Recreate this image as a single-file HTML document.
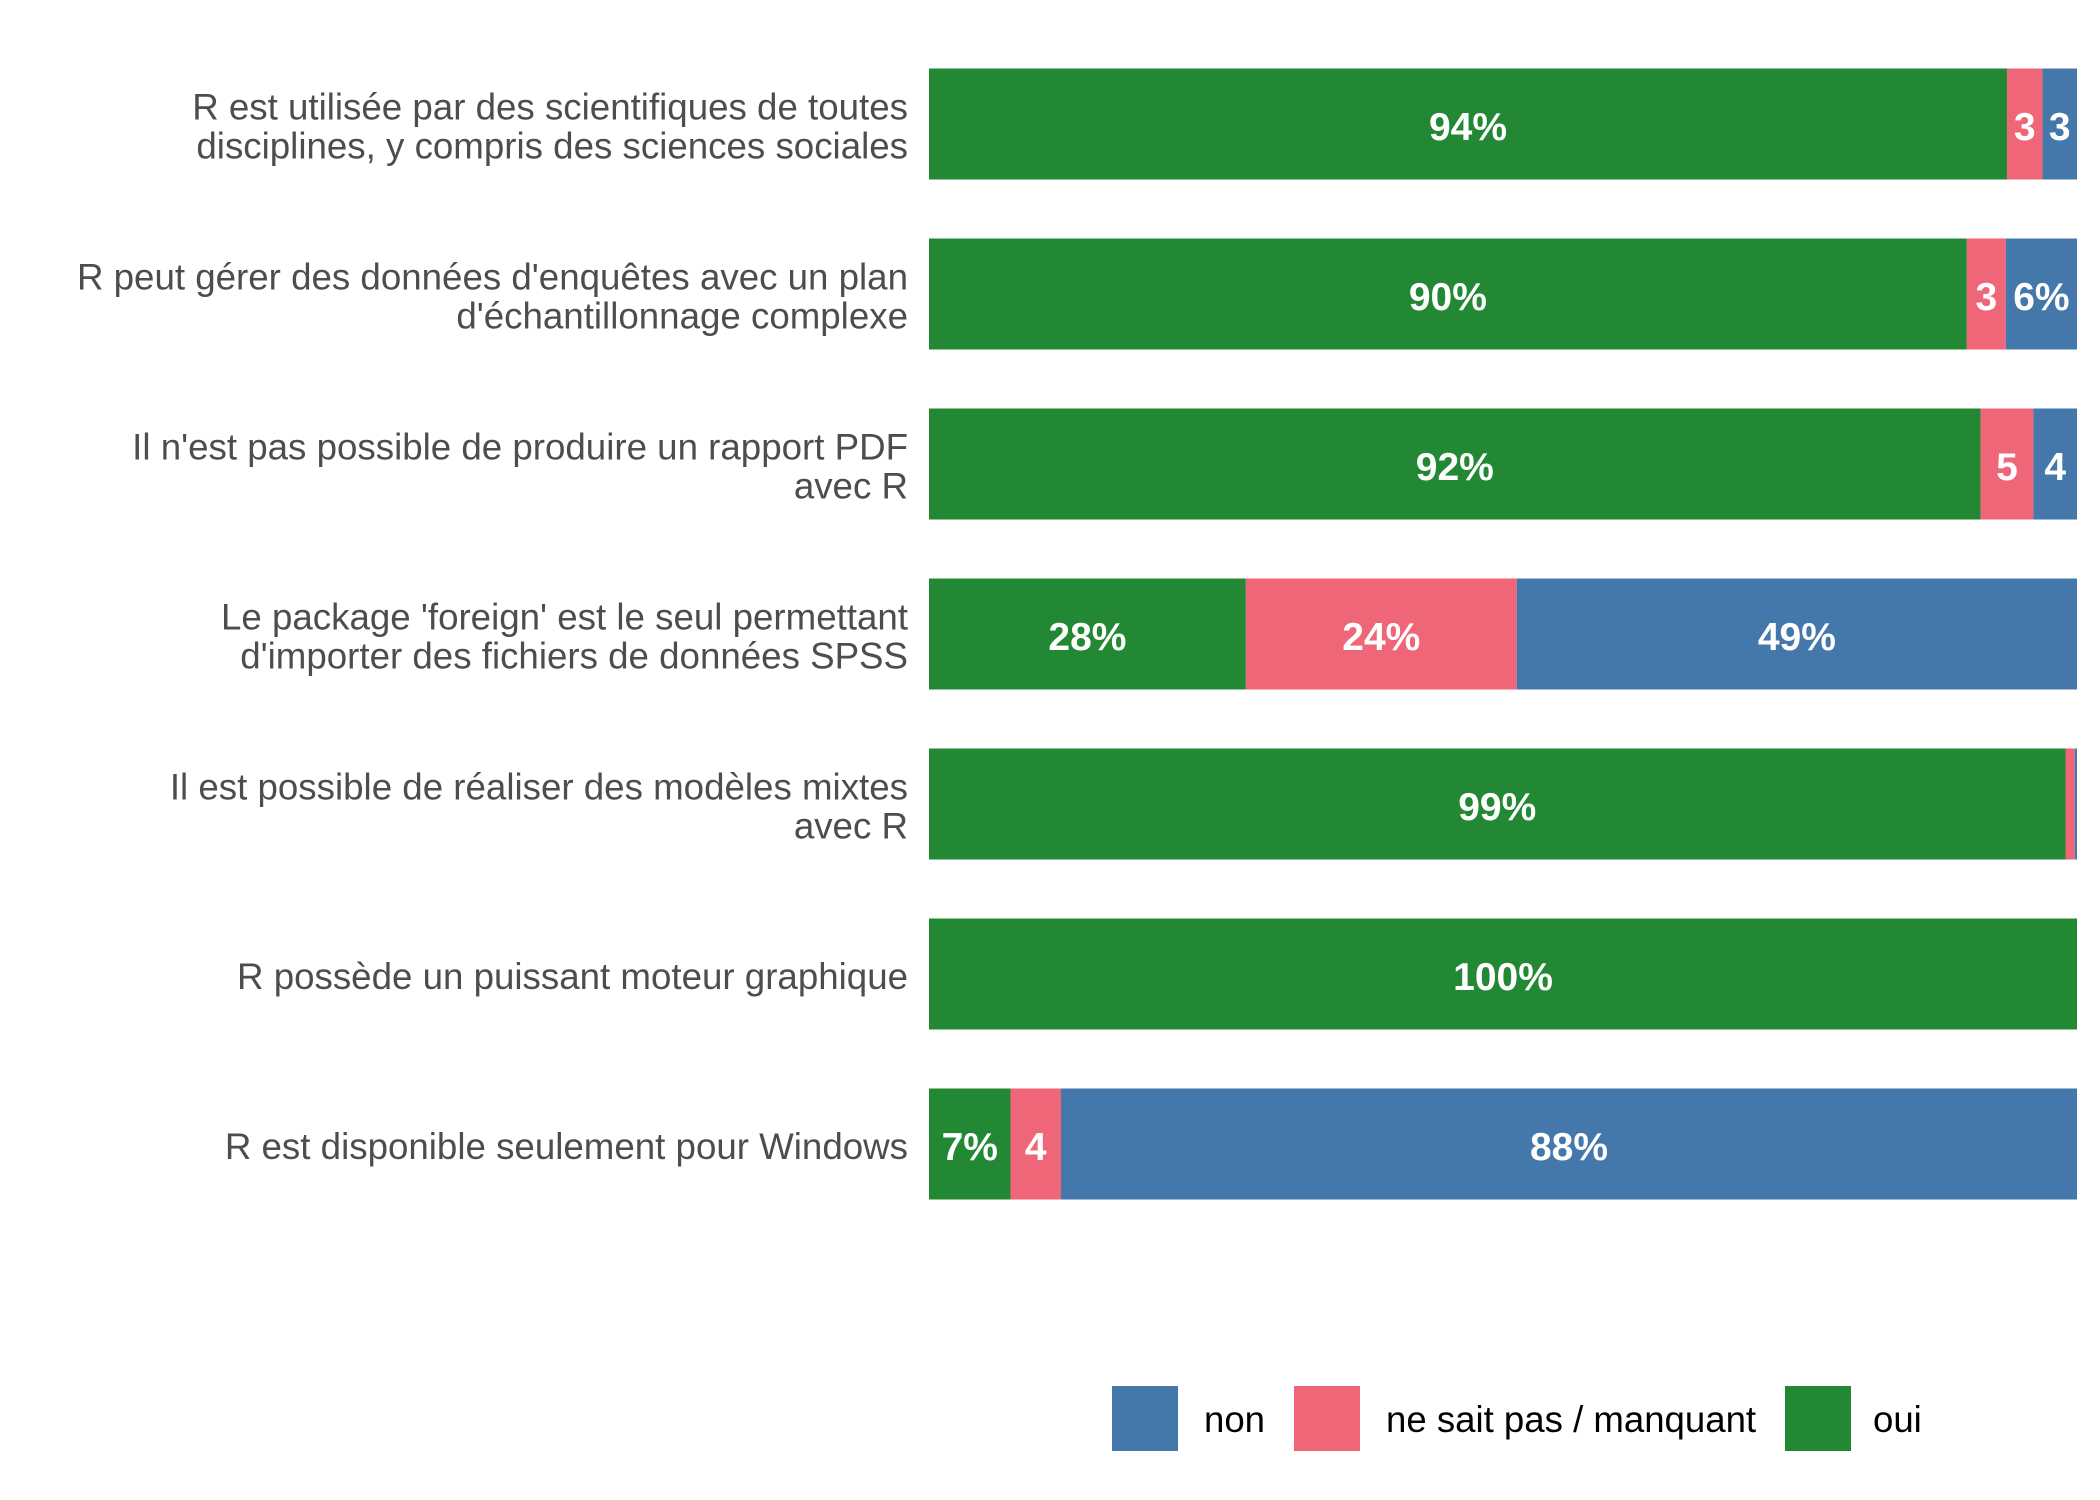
<!DOCTYPE html>
<html><head><meta charset="utf-8"><style>
body{margin:0;background:#fff}
svg{display:block}
</style></head><body>
<svg id="chart" width="2100" height="1500" xmlns="http://www.w3.org/2000/svg"></svg>
<script>
const categories = [
  ["R est utilisée par des scientifiques de toutes","disciplines, y compris des sciences sociales"],
  ["R peut gérer des données d'enquêtes avec un plan","d'échantillonnage complexe"],
  ["Il n'est pas possible de produire un rapport PDF","avec R"],
  ["Le package 'foreign' est le seul permettant","d'importer des fichiers de données SPSS"],
  ["Il est possible de réaliser des modèles mixtes","avec R"],
  ["R possède un puissant moteur graphique"],
  ["R est disponible seulement pour Windows"]
];
const ouiValues = [93.9, 90.4, 91.6, 27.6, 99.0, 100, 7.1];
const nspValues = [3.1, 3.4, 4.6, 23.6, 0.8, 0, 4.4];
const nonValues = [3.0, 6.2, 3.8, 48.8, 0.2, 0, 88.5];
const ouiLabels = ["94%","90%","92%","28%","99%","100%","7%"];
const nspLabels = ["3","3","5","24%","","","4"];
const nonLabels = ["3","6%","4","49%","","","88%"];
const legendLabels = ["non","ne sait pas / manquant","oui"];

const svg = document.getElementById('chart');
const NS = 'http://www.w3.org/2000/svg';
const x0 = 929, x1 = 2077;
const xScale = v => x0 + (x1 - x0) * v / 100;
const rowCenter = i => 124 + i * 170;
const barH = 111;
const colors = {oui:'#228833', nsp:'#EE6677', non:'#4477AA'};

function mk(tag, attrs){ const e = document.createElementNS(NS, tag); for (const k in attrs) e.setAttribute(k, attrs[k]); svg.appendChild(e); return e; }

categories.forEach((lines, i) => {
  const cy = rowCenter(i);
  const t = mk('text', {x: 908, 'text-anchor':'end', 'font-family':'Liberation Sans, sans-serif', 'font-size':36.7, fill:'#4d4d4d'});
  
  
  const lh = 39;
  const startY = cy - (lines.length - 1) * lh / 2 + 15;
  lines.forEach((ln, j) => {
    const ts = document.createElementNS(NS, 'tspan');
    ts.setAttribute('x', 908); ts.setAttribute('y', startY + j * lh);
    ts.textContent = ln; t.appendChild(ts);
  });
  const segs = [['oui', ouiValues[i], ouiLabels[i]], ['nsp', nspValues[i], nspLabels[i]], ['non', nonValues[i], nonLabels[i]]];
  let acc = 0;
  segs.forEach(([key, v, lab]) => {
    if (v <= 0) return;
    const xa = xScale(acc), xb = xScale(acc + v);
    const r = mk('rect', {x: xa, y: cy - barH / 2, width: xb - xa, height: barH, fill: colors[key]});
    
    
    if (lab) {
      const tx = mk('text', {x: (xa + xb) / 2, y: cy + 16, 'text-anchor':'middle', 'font-family':'Liberation Sans, sans-serif', 'font-size':39, 'font-weight':'bold', fill:'#fff'});
      
      
      tx.textContent = lab;
    }
    acc += v;
  });
});

const legendColors = [colors.non, colors.nsp, colors.oui];
const keyX = [1112, 1294, 1785];
const textX = [1204, 1386, 1873];
legendLabels.forEach((lab, i) => {
  const r = mk('rect', {x: keyX[i], y: 1386, width: 66, height: 65, fill: legendColors[i]});
  
  
  const t = mk('text', {x: textX[i], y: 1432, 'font-family':'Liberation Sans, sans-serif', 'font-size':36.6, fill:'#000'});
  
  
  t.textContent = lab;
});
</script>
</body></html>
